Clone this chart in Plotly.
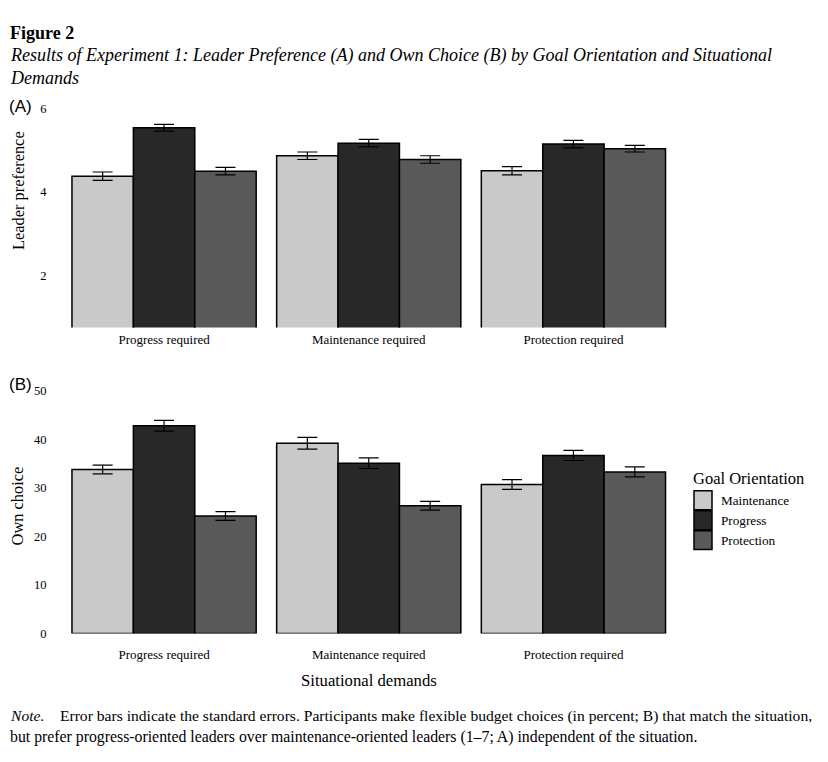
import plotly.graph_objects as go

# page body has an 8px margin; size the figure so it fits the 828x762 window
OFF = 8
FW, FH = 828 - 2 * OFF, 762 - 2 * OFF

situations = ["Progress required", "Maintenance required", "Protection required"]
orientations = ["Maintenance", "Progress", "Protection"]
colors = ["#c9c9c9", "#282828", "#595959"]

# Panel A: leader preference (1-7)
pref_maintenance = [4.37, 4.86, 4.50]
pref_progress = [5.53, 5.16, 5.14]
pref_protection = [4.49, 4.77, 5.03]
pref_se_maintenance = [0.10, 0.09, 0.10]
pref_se_progress = [0.08, 0.09, 0.09]
pref_se_protection = [0.09, 0.09, 0.08]

# Panel B: own choice (percent)
own_maintenance = [33.8, 39.2, 30.7]
own_progress = [42.8, 35.1, 36.7]
own_protection = [24.2, 26.3, 33.3]
own_se_maintenance = [0.9, 1.2, 1.0]
own_se_progress = [1.1, 1.1, 1.05]
own_se_protection = [0.9, 0.9, 1.05]

pref_vals = [pref_maintenance, pref_progress, pref_protection]
pref_ses = [pref_se_maintenance, pref_se_progress, pref_se_protection]
own_vals = [own_maintenance, own_progress, own_protection]
own_ses = [own_se_maintenance, own_se_progress, own_se_protection]

pref_ticks = [2, 4, 6]
own_ticks = [0, 10, 20, 30, 40, 50]

SERIF = "Liberation Serif, Times New Roman, serif"
SANS = "Liberation Sans, Arial, sans-serif"

# empirical vertical calibration of the capture
VA, VB = 8.6, 0.98
CA, CB = 10.4, 1.013


def py(pix):
    r = (pix + CA) / CB
    p = (r - VA) / VB
    return 1 - (p - OFF) / FH


def px(pix):
    return (pix - OFF) / FW


fig = go.Figure()

for i, name in enumerate(orientations):
    fig.add_trace(go.Bar(
        x=situations, y=pref_vals[i], name=name,
        marker=dict(color=colors[i], line=dict(color="black", width=1.5)),
        error_y=dict(type="data", array=pref_ses[i], color="black", thickness=1.2, width=10),
        xaxis="x", yaxis="y", showlegend=False,
    ))
for i, name in enumerate(orientations):
    fig.add_trace(go.Bar(
        x=situations, y=own_vals[i], name=name,
        marker=dict(color=colors[i], line=dict(color="black", width=1.5)),
        error_y=dict(type="data", array=own_ses[i], color="black", thickness=1.2, width=10),
        xaxis="x2", yaxis="y2", showlegend=False,
    ))

xdom = [px(51.5), px(686)]
common_x = dict(range=[-0.55, 2.55], showline=False, showgrid=False, zeroline=False,
                ticks="", tickfont=dict(family=SERIF, size=13, color="black"),
                fixedrange=True)
common_y = dict(showline=False, showgrid=False, zeroline=False, ticks="",
                tickfont=dict(family=SERIF, size=12.5, color="black"), ticklabelstandoff=4)

fig.update_layout(
    width=FW, height=FH,
    margin=dict(l=0, r=0, t=0, b=0),
    paper_bgcolor="white", plot_bgcolor="white",
    barmode="group", bargap=0.1, bargroupgap=0,
    showlegend=False,
    xaxis=dict(domain=xdom, anchor="y", ticklabelstandoff=2, **common_x),
    yaxis=dict(domain=[py(326.5), py(52.2)], range=[0.745, 7.3], tickvals=pref_ticks, anchor="x",
               title=dict(text="Leader preference", font=dict(family=SERIF, size=16.4, color="black"), standoff=11),
               **common_y),
    xaxis2=dict(domain=xdom, anchor="y2", ticklabelstandoff=12, **common_x),
    yaxis2=dict(domain=[py(633), py(377.8)], range=[0, 52.5], tickvals=own_ticks, anchor="x2",
                title=dict(text="Own choice", font=dict(family=SERIF, size=16.4, color="black"), standoff=14),
                **common_y),
)

ann = []
ann.append(dict(text="<b>Figure 2</b>", x=px(8), y=py(31), xref="paper", yref="paper",
                xanchor="left", yanchor="middle", showarrow=False,
                font=dict(family=SERIF, size=18, color="black")))
ann.append(dict(text="<i>Results of Experiment 1: Leader Preference (A) and Own Choice (B) by Goal Orientation and Situational</i>",
                x=px(8), y=py(54), xref="paper", yref="paper", xanchor="left", yanchor="middle",
                showarrow=False, font=dict(family=SERIF, size=18, color="black")))
ann.append(dict(text="<i>Demands</i>", x=px(8), y=py(76), xref="paper", yref="paper",
                xanchor="left", yanchor="middle", showarrow=False,
                font=dict(family=SERIF, size=18, color="black")))
ann.append(dict(text="(A)", x=px(7), y=py(105), xref="paper", yref="paper", xanchor="left",
                yanchor="middle", showarrow=False, font=dict(family=SANS, size=17, color="black")))
ann.append(dict(text="(B)", x=px(7), y=py(384), xref="paper", yref="paper", xanchor="left",
                yanchor="middle", showarrow=False, font=dict(family=SANS, size=17, color="black")))
ann.append(dict(text="Situational demands", x=(xdom[0] + xdom[1]) / 2, y=py(680), xref="paper", yref="paper",
                xanchor="center", yanchor="middle", showarrow=False,
                font=dict(family=SERIF, size=16.7, color="black")))
ann.append(dict(text="<i>Note.</i>    Error bars indicate the standard errors. Participants make flexible budget choices (in percent; B) that match the situation,",
                x=px(8), y=py(716), xref="paper", yref="paper", xanchor="left", yanchor="middle",
                showarrow=False, font=dict(family=SERIF, size=15.6, color="black")))
ann.append(dict(text="but prefer progress-oriented leaders over maintenance-oriented leaders (1\u20137; A) independent of the situation.",
                x=px(8), y=py(737), xref="paper", yref="paper", xanchor="left", yanchor="middle",
                showarrow=False, font=dict(family=SERIF, size=15.8, color="black")))

# Legend (drawn manually to match the square swatches)
ann.append(dict(text="Goal Orientation", x=px(691), y=py(478), xref="paper", yref="paper",
                xanchor="left", yanchor="middle", showarrow=False,
                font=dict(family=SERIF, size=16.5, color="black")))
shapes = []
for i, name in enumerate(orientations):
    top = 490 + 20 * i
    shapes.append(dict(type="rect", xref="paper", yref="paper",
                       x0=px(694), x1=px(712), y0=py(top + 19), y1=py(top),
                       fillcolor=colors[i], line=dict(color="black", width=1.5)))
    ann.append(dict(text=name, x=px(719), y=py(top + 10), xref="paper", yref="paper",
                    xanchor="left", yanchor="middle", showarrow=False,
                    font=dict(family=SERIF, size=13.2, color="black")))

fig.update_layout(annotations=ann, shapes=shapes)

fig.write_html("out.html")
